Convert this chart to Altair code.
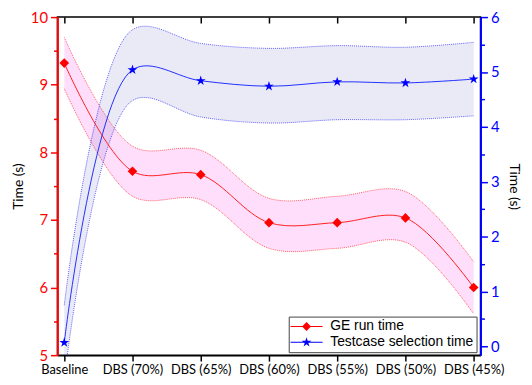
import altair as alt
import pandas as pd

categories = ["Baseline", "DBS (70%)", "DBS (65%)", "DBS (60%)", "DBS (55%)", "DBS (50%)", "DBS (45%)"]
ge_time = [9.32, 7.72, 7.67, 6.96, 6.96, 7.03, 6.00]
ge_upper = [9.70, 8.09, 8.03, 7.32, 7.35, 7.42, 6.38]
ge_lower = [8.94, 7.35, 7.30, 6.58, 6.58, 6.67, 5.61]
ts_time = [0.07, 5.04, 4.84, 4.74, 4.82, 4.80, 4.87]
ts_upper = [0.75, 5.77, 5.52, 5.43, 5.48, 5.45, 5.54]
ts_lower = [-0.60, 4.48, 4.18, 4.07, 4.13, 4.13, 4.20]
series_names = ["GE run time", "Testcase selection time"]

df = pd.DataFrame({
    "idx": list(range(len(categories))),
    "cat": categories,
    "ge": ge_time, "ge_hi": ge_upper, "ge_lo": ge_lower,
    "ts": ts_time, "ts_hi": ts_upper, "ts_lo": ts_lower,
})

FONT = "Lato"
RED = "#ff0000"
BLUE = "#0000ff"
CURVE = "catmull-rom"

xscale = alt.Scale(domain=[-0.1, 6.1], nice=False, zero=False)
lscale = alt.Scale(domain=[5, 10], nice=False, zero=False)
rscale = alt.Scale(domain=[-0.16, 6], nice=False, zero=False)

label_js = "[" + ",".join("'" + c + "'" for c in categories) + "][datum.value]"

x_plain = alt.X("idx:Q", scale=xscale, axis=None)
x_bottom = alt.X("idx:Q", scale=xscale, axis=alt.Axis(
    orient="bottom", values=list(range(len(categories))), labelExpr=label_js,
    tickSize=6, tickColor="black", tickWidth=1.5, domainColor="black", domainWidth=1.5,
    labelFont=FONT, labelFontSize=13, labelColor="black", labelPadding=3,
    grid=False, title=None, labelOverlap=False))
x_top = alt.X("idx:Q", scale=xscale, axis=alt.Axis(
    orient="top", values=list(range(len(categories))), labels=False,
    tickSize=6, tickColor="black", tickWidth=1.5, domain=False, offset=-6,
    grid=False, title=None))

int_label = "datum.value % 1 === 0 ? format(datum.value, 'd') : ''"
half = [v / 2 for v in range(10, 21)]
left_axis = alt.Axis(
    orient="left", values=half, labelExpr=int_label,
    tickSize={"condition": {"test": "datum.value % 1 === 0", "value": 7}, "value": 4},
    domainColor=RED, domainWidth=2, tickColor=RED, tickWidth=1.5,
    labelColor=RED, labelFont=FONT, labelFontSize=15, labelPadding=3,
    title="Time (s)", titleColor="black", titleFont=FONT, titleFontSize=14,
    titleFontWeight="normal", titlePadding=5, grid=False)
rhalf = [v / 2 for v in range(0, 13)]
right_axis = alt.Axis(
    orient="right", values=rhalf, labelExpr=int_label,
    tickSize={"condition": {"test": "datum.value % 1 === 0", "value": 7}, "value": 4},
    domainColor=BLUE, domainWidth=2, tickColor=BLUE, tickWidth=1.5,
    labelColor=BLUE, labelFont=FONT, labelFontSize=15, labelPadding=3,
    title="Time (s)", titleColor="black", titleFont=FONT, titleFontSize=14,
    titleFontWeight="normal", titlePadding=8, grid=False)

base = alt.Chart(df)

red_band = base.mark_area(color="#ff00dd", opacity=0.13, interpolate=CURVE, clip=True).encode(
    x=x_plain, y=alt.Y("ge_lo:Q", scale=lscale, axis=left_axis), y2="ge_hi:Q")
blue_band = base.mark_area(color="#3333aa", opacity=0.10, interpolate=CURVE, clip=True).encode(
    x=x_plain, y=alt.Y("ts_lo:Q", scale=rscale, axis=right_axis), y2="ts_hi:Q")

def edge(field, scale, color):
    return base.mark_line(color=color, strokeWidth=1, strokeDash=[1, 1], opacity=0.6,
                          interpolate=CURVE, clip=True).encode(
        x=x_plain, y=alt.Y(field + ":Q", scale=scale, axis=None))

red_hi = edge("ge_hi", lscale, RED)
red_lo = edge("ge_lo", lscale, RED)
blue_hi = edge("ts_hi", rscale, BLUE)
blue_lo = edge("ts_lo", rscale, BLUE)

red_line = base.mark_line(color="#ff2020", strokeWidth=1, interpolate=CURVE, clip=True).encode(
    x=x_bottom, y=alt.Y("ge:Q", scale=lscale, axis=None))
blue_line = base.mark_line(color="#2030ff", strokeWidth=1, interpolate=CURVE, clip=True).encode(
    x=x_top, y=alt.Y("ts:Q", scale=rscale, axis=None))

STAR = "M0,-1L0.2245,-0.309L0.951,-0.309L0.363,0.118L0.588,0.809L0,0.382L-0.588,0.809L-0.363,0.118L-0.951,-0.309L-0.2245,-0.309Z"
red_pts = base.mark_point(shape="diamond", filled=True, color=RED, size=95, opacity=1).encode(
    x=x_plain, y=alt.Y("ge:Q", scale=lscale, axis=None))
blue_pts = base.mark_point(shape=STAR, filled=True, color=BLUE, size=110, opacity=1).encode(
    x=x_plain, y=alt.Y("ts:Q", scale=rscale, axis=None))

RED_SYM = "M-2.7,-0.08H2.7V0.08H-2.7ZM0,-0.75L0.75,0L0,0.75L-0.75,0Z"
BLUE_SYM = ("M-2.7,-0.08H2.7V0.08H-2.7Z"
            "M0,-0.85L0.19,-0.26L0.81,-0.26L0.31,0.1L0.5,0.69L0,0.32L-0.5,0.69L-0.31,0.1L-0.81,-0.26L-0.19,-0.26Z")

legend_layer = base.transform_calculate(series="'GE run time'").mark_point(
    filled=True, opacity=0).encode(
    x=x_plain,
    y=alt.Y("ge:Q", scale=lscale, axis=None),
    color=alt.Color("series:N", scale=alt.Scale(domain=series_names, range=[RED, BLUE]),
                    legend=alt.Legend(
                        orient="none", legendX=234, legendY=303, title=None,
                        fillColor="white", strokeColor="#444444",
                        padding=3, cornerRadius=0,
                        labelFont="Liberation Sans", labelFontSize=14, labelColor="black",
                        symbolSize=144, symbolOffset=8, labelOffset=17,
                        symbolOpacity=1, symbolStrokeWidth=0, rowPadding=2)),
    shape=alt.Shape("series:N", scale=alt.Scale(domain=series_names, range=[RED_SYM, BLUE_SYM]),
                    legend=None),
)

chart = alt.layer(
    red_band, blue_band, red_hi, red_lo, blue_hi, blue_lo,
    red_line, blue_line, red_pts, blue_pts, legend_layer
).resolve_scale(y="independent").resolve_axis(x="independent", y="independent").properties(
    width=428, height=342,
    padding={"left": 50, "top": 7, "right": 44, "bottom": 28},
    autosize=alt.AutoSizeParams(type="none"),
).configure_view(stroke="black", strokeWidth=1.5)

chart.save("out.html", embed_options={"renderer": "svg", "actions": False})
